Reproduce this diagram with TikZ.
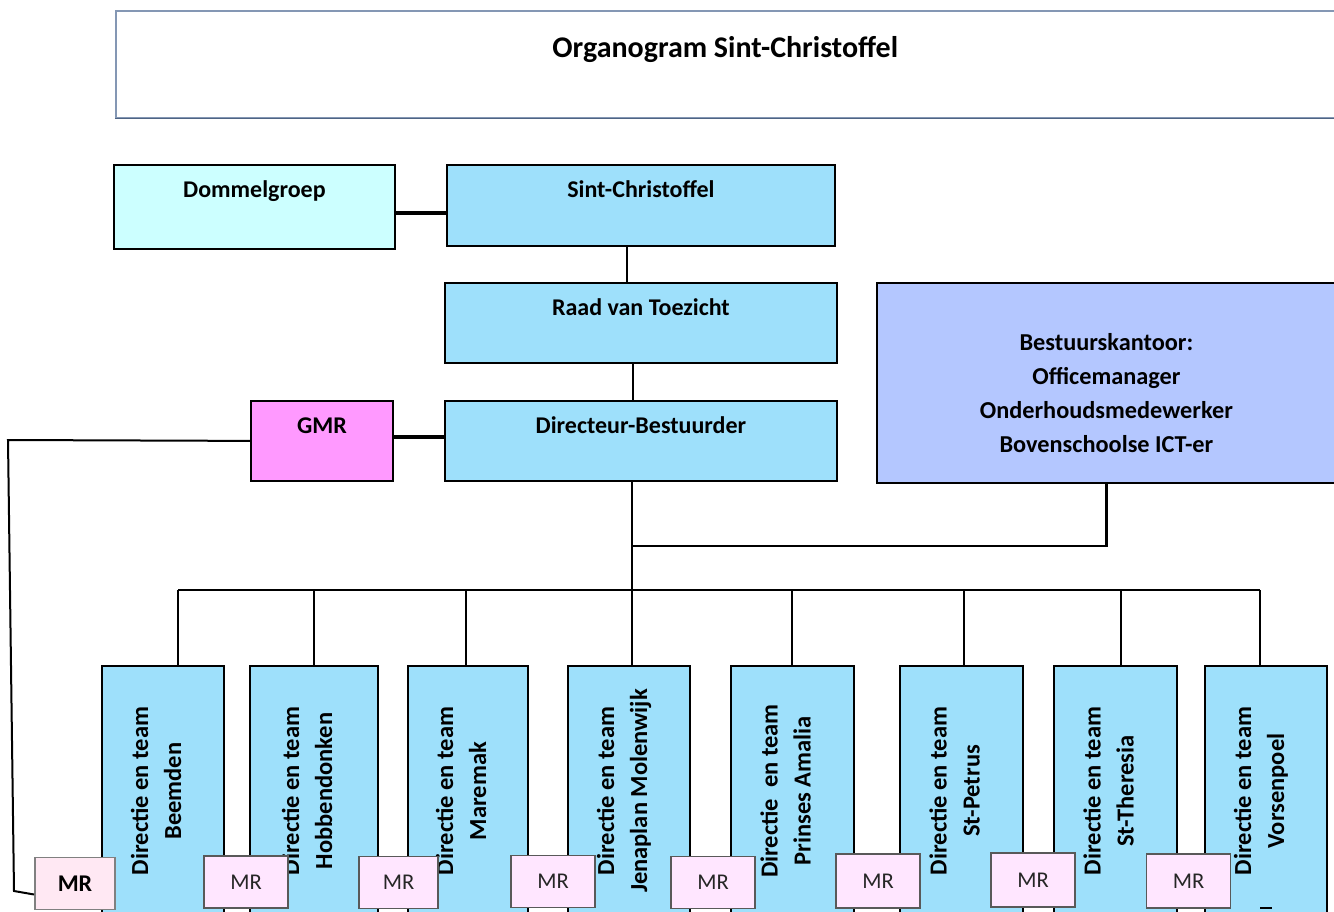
\documentclass[tikz,border=0pt]{standalone}
\usepackage{fontspec}
\setmainfont{Carlito}
\usepackage{tikz}
\definecolor{orgblue}{HTML}{9EE0FB}
\definecolor{orgcyan}{HTML}{CCFFFF}
\definecolor{orgpink}{HTML}{FF99FF}
\definecolor{orgperi}{HTML}{B4C7FF}
\definecolor{mrpink}{HTML}{FFE6FF}
\definecolor{mrlight}{HTML}{FFE8F3}
\definecolor{titleline}{HTML}{8497B4}
\definecolor{titledark}{HTML}{4F6484}

\tikzset{
  orgbox/.style={draw=black, line width=1.8pt, inner ysep=0pt, text height=33pt, text depth=#1,
    anchor=north west, font=\bfseries\fontsize{24}{28}\selectfont},
  teambox/.style={draw=black, line width=1.8pt, fill=orgblue, rotate=90, minimum width=250pt,
    align=center, text depth=14pt, font=\bfseries\fontsize{24.5}{33}\selectfont},
  mrbox/.style={draw=black!65, line width=1.8pt, fill=mrpink, minimum width=84pt, minimum height=52pt,
    inner sep=0pt, font=\fontsize{22.5}{24}\selectfont, text=black!85},
  link/.style={line width=2.6pt},
  thicklink/.style={line width=3.2pt},
}

\begin{document}
\begin{tikzpicture}[x=1pt, y=-1pt]
\useasboundingbox (0,0) rectangle (1334,911);
\clip (0,0) rectangle (1334,911);

% title
\node[draw=titleline, line width=1.5pt, anchor=north west, minimum width=1219pt, inner ysep=0pt,
  text height=47pt, text depth=60pt, font=\bfseries\fontsize{30}{34}\selectfont] (title) at (115,10) {Organogram Sint-Christoffel};
\draw[titledark, line width=1.5pt] (title.south west) -- (title.south east);

% top of the chart
\node[orgbox=51pt, fill=orgcyan, minimum width=281pt] (dommel) at (113,164) {Dommelgroep};
\node[orgbox=48pt, fill=orgblue, minimum width=388pt] (sint) at (446,164) {Sint-Christoffel};
\node[orgbox=47pt, fill=orgblue, minimum width=392pt] (raad) at (444,282) {Raad van Toezicht};
\node[orgbox=47pt, fill=orgblue, minimum width=392pt] (dir) at (444,400) {Directeur-Bestuurder};
\node[orgbox=47pt, fill=orgpink, minimum width=142pt] (gmr) at (250,400) {GMR};

\node[draw=black, line width=1.8pt, fill=orgperi, anchor=north west, minimum width=459pt,
  minimum height=200pt] (kantoor) at (876,282) {};
\node[align=center, font=\bfseries\fontsize{24.3}{34}\selectfont] (kantoor-t) at ([yshift=-10pt]kantoor.center)
  {Bestuurskantoor:\\Officemanager\\Onderhoudsmedewerker\\Bovenschoolse ICT-er};

\draw[thicklink] ([yshift=-6pt]dommel.east) -- ([yshift=-6pt]dommel.east -| sint.west);
\draw[link] ([xshift=-14pt]sint.south) -- ([xshift=-14pt]sint.south |- raad.north);
\draw[link] ([xshift=-8pt]raad.south) -- ([xshift=-8pt]raad.south |- dir.north);
\draw[thicklink] ([yshift=4pt]gmr.east) -- ([yshift=4pt]gmr.east -| dir.west);

% schools
\node[teambox, minimum height=122pt] (t1) at (163,791) {Directie en team\\Beemden};
\node[teambox, minimum height=128pt] (t2) at (314,791) {Directie en team\\Hobbendonken};
\node[teambox, minimum height=120pt] (t3) at (468,791) {Directie en team\\Maremak};
\node[teambox, minimum height=122pt] (t4) at (629,791) {Directie en team\\Jenaplan Molenwijk};
\node[teambox, minimum height=123pt] (t5) at (792.5,791) {Directie\ \ en team\\Prinses Amalia};
\node[teambox, minimum height=123pt] (t6) at (961.5,791) {Directie en team\\St-Petrus};
\node[teambox, minimum height=123pt] (t7) at (1115.5,791) {Directie en team\\St-Theresia};
\node[teambox, minimum height=122pt] (t8) at (1266,791) {Directie en team\\Vorsenpoel};

\coordinate (bus) at (632,590);
\coordinate (elbow) at (632,546);
\coordinate (d1) at (178,590);
\coordinate (d2) at (314,590);
\coordinate (d3) at (466,590);
\coordinate (d4) at (632,590);
\coordinate (d5) at (792,590);
\coordinate (d6) at (964,590);
\coordinate (d7) at (1121,590);
\coordinate (d8) at (1260,590);

\draw[link] (bus |- dir.south) -- (bus);
\draw[link] (kantoor.south) |- (elbow);
\draw[link] (d1) -- (d8);
\draw[link] (d1) -- (d1 |- t1.east);
\draw[link] (d2) -- (d2 |- t2.east);
\draw[link] (d3) -- (d3 |- t3.east);
\draw[link] (d4) -- (d4 |- t4.east);
\draw[link] (d5) -- (d5 |- t5.east);
\draw[link] (d6) -- (d6 |- t6.east);
\draw[link] (d7) -- (d7 |- t7.east);
\draw[link] (d8) -- (d8 |- t8.east);
\draw[link] (1260,908) -- (1272,908);

% MR
\node[mrbox, fill=mrlight, draw=black!50, minimum width=80pt, text=black, font=\bfseries\fontsize{24}{26}\selectfont] (mr1) at (75,883.5) {MR};
\node[mrbox] (mr2) at (246,882) {MR};
\node[mrbox, minimum width=79pt] (mr3) at (398.5,882.5) {MR};
\node[mrbox] (mr4) at (553,881.5) {MR};
\node[mrbox] (mr5) at (713,882.5) {MR};
\node[mrbox, minimum height=54pt] (mr6) at (878,881) {MR};
\node[mrbox, minimum height=54pt] (mr7) at (1033,880) {MR};
\node[mrbox, minimum height=54pt] (mr8) at (1188.5,881) {MR};

\coordinate (gmr-corner) at (8,440);
\coordinate (mr-corner) at (14,891);
\draw[line width=2pt] (gmr.west) -- (gmr-corner) -- (mr-corner) -- ([yshift=-11pt]mr1.west);
\end{tikzpicture}
\end{document}
